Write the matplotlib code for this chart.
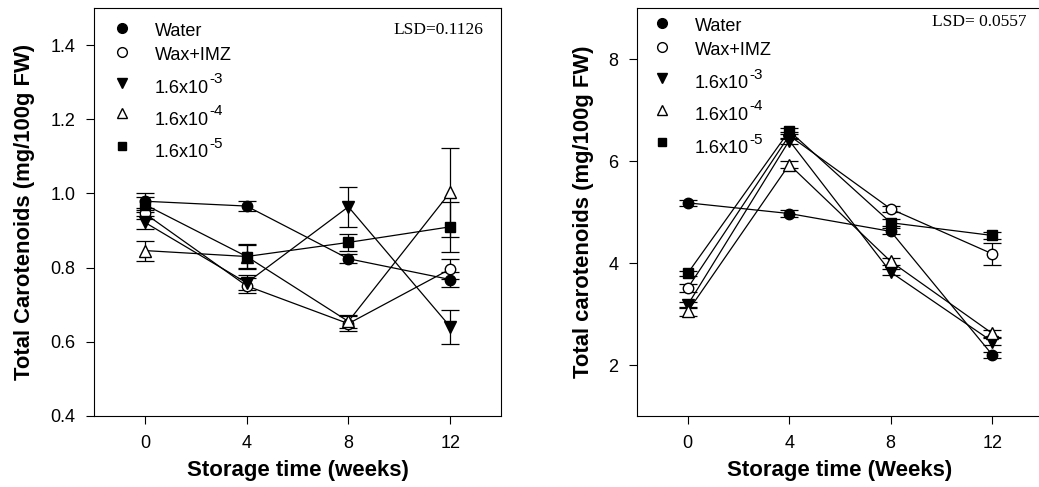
import matplotlib
matplotlib.use("Agg")
import matplotlib.pyplot as plt

plt.rcParams['font.family'] = ['Liberation Sans', 'DejaVu Sans']

weeks = [0, 4, 8, 12]
keys = ['Water', 'Wax+IMZ', '1e-3', '1e-4', '1e-5']
# legend text: (main part, superscript)
labels = [('Water', ''), ('Wax+IMZ', ''), ('1.6x10', '-3'),
          ('1.6x10', '-4'), ('1.6x10', '-5')]

# left panel: total carotenoids (mg/100g FW), mean and error per treatment
left_mean = {
    'Water':   [0.979, 0.966, 0.824, 0.768],
    'Wax+IMZ': [0.946, 0.751, 0.649, 0.796],
    '1e-3':    [0.922, 0.759, 0.964, 0.641],
    '1e-4':    [0.846, 0.830, 0.655, 1.003],
    '1e-5':    [0.970, 0.830, 0.868, 0.910],
}
left_err = {
    'Water':   [0.023, 0.013, 0.012, 0.020],
    'Wax+IMZ': [0.015, 0.020, 0.020, 0.027],
    '1e-3':    [0.018, 0.020, 0.054, 0.046],
    '1e-4':    [0.027, 0.032, 0.018, 0.120],
    '1e-5':    [0.020, 0.033, 0.022, 0.067],
}

# right panel
right_mean = {
    'Water':   [5.18, 4.97, 4.62, 2.20],
    'Wax+IMZ': [3.51, 6.50, 5.06, 4.18],
    '1e-3':    [3.18, 6.40, 3.82, 2.46],
    '1e-4':    [3.05, 5.93, 4.03, 2.62],
    '1e-5':    [3.80, 6.59, 4.79, 4.54],
}
right_err = {
    'Water':   [0.06, 0.07, 0.06, 0.06],
    'Wax+IMZ': [0.07, 0.06, 0.06, 0.22],
    '1e-3':    [0.06, 0.06, 0.06, 0.07],
    '1e-4':    [0.08, 0.07, 0.06, 0.07],
    '1e-5':    [0.05, 0.06, 0.07, 0.06],
}

styles = {
    'Water':   dict(marker='o', mfc='black', ms=7.5),
    'Wax+IMZ': dict(marker='o', mfc='white', ms=7.5),
    '1e-3':    dict(marker='v', mfc='black', ms=8),
    '1e-4':    dict(marker='^', mfc='white', ms=8),
    '1e-5':    dict(marker='s', mfc='black', ms=6.5),
}

# hand-placed legend rows (axes fraction): marker y, text baseline y
left_leg = dict(mx=0.068, tx=0.150,
                my=[0.950, 0.893, 0.815, 0.742, 0.662],
                ty=[0.931, 0.873, 0.792, 0.713, 0.634])
right_leg = dict(mx=0.061, tx=0.143,
                 my=[0.9625, 0.905, 0.828, 0.750, 0.672],
                 ty=[0.944, 0.885, 0.803, 0.7255, 0.644])


def legend(ax, pos):
    for i, k in enumerate(keys):
        st = dict(styles[k])
        st['ms'] = st['ms'] - 0.5
        ax.plot([pos['mx']], [pos['my'][i]], ls='none', color='black',
                mec='black', transform=ax.transAxes, clip_on=False, **st)
        main, sup = labels[i]
        t = ax.text(pos['tx'], pos['ty'][i], main, transform=ax.transAxes,
                    va='baseline', ha='left', fontsize=13)
        if sup:
            ax.annotate(sup, xy=(1, 0), xycoords=t, xytext=(0.3, 9.8),
                        textcoords='offset points', va='baseline',
                        ha='left', fontsize=11)


def panel(ax, means, errs, ylim, yticks, ylabel, xlabel, lsd, lsd_xy, pos,
          ylabelpad):
    for k in keys:
        ax.errorbar(weeks, means[k], yerr=errs[k], color='black', lw=0.9,
                    mec='black', capsize=6.5, capthick=0.9, elinewidth=0.9,
                    zorder=3, **styles[k])
    ax.set_xlim(-2, 14)
    ax.set_ylim(*ylim)
    ax.set_xticks(weeks)
    ax.set_yticks(yticks)
    ax.tick_params(direction='out', length=6, width=0.8, labelsize=13,
                   top=False, right=False, pad=7.5)
    for s in ax.spines.values():
        s.set_linewidth(0.8)
    ax.set_ylabel(ylabel, fontsize=15.8, fontweight='bold', labelpad=ylabelpad)
    ax.set_xlabel(xlabel, fontsize=16, fontweight='bold', labelpad=6)
    ax.text(lsd_xy[0], lsd_xy[1], lsd, transform=ax.transAxes, ha='right',
            va='top', fontsize=12.5, family='Liberation Serif')
    legend(ax, pos)


fig = plt.figure(figsize=(10.39, 4.87), dpi=100)
ax1 = fig.add_axes([94 / 1039, 71 / 487, 407 / 1039, 408 / 487])
ax2 = fig.add_axes([637 / 1039, 71 / 487, 406 / 1039, 408 / 487])

panel(ax1, left_mean, left_err, (0.4, 1.5), [0.4, 0.6, 0.8, 1.0, 1.2, 1.4],
      'Total Carotenoids (mg/100g FW)', 'Storage time (weeks)',
      'LSD=0.1126', (0.956, 0.966), left_leg, 11)
panel(ax2, right_mean, right_err, (1, 9), [2, 4, 6, 8],
      'Total carotenoids (mg/100g FW)', 'Storage time (Weeks)',
      'LSD= 0.0557', (0.96, 0.985), right_leg, 10)

fig.savefig('out.png', dpi=100)
